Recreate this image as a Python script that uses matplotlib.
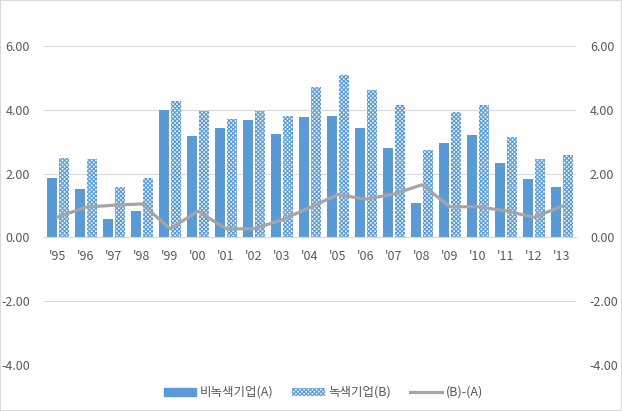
import matplotlib.pyplot as plt
import matplotlib.patches as patches
from matplotlib.lines import Line2D
import numpy as np

plt.rcParams['font.family'] = ['Noto Sans CJK KR', 'DejaVu Sans']
plt.rcParams['hatch.linewidth'] = 0.8

# Data
years = ["'95", "'96", "'97", "'98", "'99", "'00", "'01", "'02", "'03", "'04",
         "'05", "'06", "'07", "'08", "'09", "'10", "'11", "'12", "'13"]
non_green = [1.86, 1.51, 0.57, 0.82, 3.98, 3.17, 3.42, 3.67, 3.23, 3.78,
             3.80, 3.42, 2.79, 1.08, 2.95, 3.20, 2.32, 1.84, 1.59]
green = [2.49, 2.45, 1.57, 1.85, 4.27, 3.96, 3.70, 3.96, 3.82, 4.70,
         5.09, 4.62, 4.15, 2.73, 3.93, 4.15, 3.14, 2.47, 2.57]
diff = [0.64, 0.95, 1.01, 1.05, 0.27, 0.82, 0.27, 0.27, 0.55, 0.94,
        1.34, 1.20, 1.36, 1.65, 0.96, 0.96, 0.83, 0.63, 0.98]
yticks = [-4, -2, 0, 2, 4, 6]

blue = '#5B9BD5'
gray = '#A5A5A5'
txt = '#595959'
hatch = 'xxxxxxxx'

fig = plt.figure(figsize=(6.22, 4.11), dpi=100)
ax = fig.add_axes([44 / 622, 46 / 411, 532 / 622, 319 / 411])
ax.set_ylim(-4, 6)
x = np.arange(len(years))
ax.set_xlim(-0.5, len(years) - 0.5)

ax.bar(x - 0.23, non_green, width=0.36, color=blue, zorder=2)
ax.bar(x + 0.23, green, width=0.36, facecolor='#EAF2FA', edgecolor=blue,
       hatch=hatch, linewidth=0, zorder=2)
ax.plot(x, diff, color=gray, linewidth=2.3, zorder=3, solid_capstyle='round')

ax.set_yticks(yticks)
ax.set_yticklabels([f'{v:.2f}' for v in yticks])
ax.grid(axis='y', color='#D9D9D9', linewidth=0.8, zorder=0)
for s in ['top', 'left', 'right']:
    ax.spines[s].set_visible(False)
ax.spines['bottom'].set_position(('data', 0))
ax.spines['bottom'].set_color('#D9D9D9')
ax.set_xticks(x)
ax.set_xticklabels(years)
ax.tick_params(axis='both', length=0, labelsize=9, colors=txt)
ax.tick_params(axis='x', pad=9)
ax.tick_params(axis='y', pad=10)

ax2 = ax.twinx()
ax2.set_ylim(-4, 6)
ax2.set_yticks(yticks)
ax2.set_yticklabels([f'{v:.2f}' for v in yticks])
ax2.tick_params(axis='y', length=0, labelsize=9, colors=txt, pad=10)
for s in ax2.spines.values():
    s.set_visible(False)

handles = [
    patches.Patch(facecolor=blue, edgecolor=blue),
    patches.Patch(facecolor='#EAF2FA', edgecolor=blue, hatch=hatch, linewidth=0),
    Line2D([0], [0], color=gray, linewidth=2.3),
]
fig.legend(handles, ['비녹색기업(A)', '녹색기업(B)', '(B)-(A)'],
           loc='center', bbox_to_anchor=(0.52, 0.045), ncol=3, frameon=False,
           fontsize=9, labelcolor=txt, handlelength=2.6, handleheight=0.6,
           columnspacing=1.5, handletextpad=0.3)

fig.patches.append(patches.Rectangle((0, 0), 1, 1, transform=fig.transFigure,
                                     fill=False, edgecolor='#D9D9D9', linewidth=1.5))

fig.savefig('out.png', dpi=100)
